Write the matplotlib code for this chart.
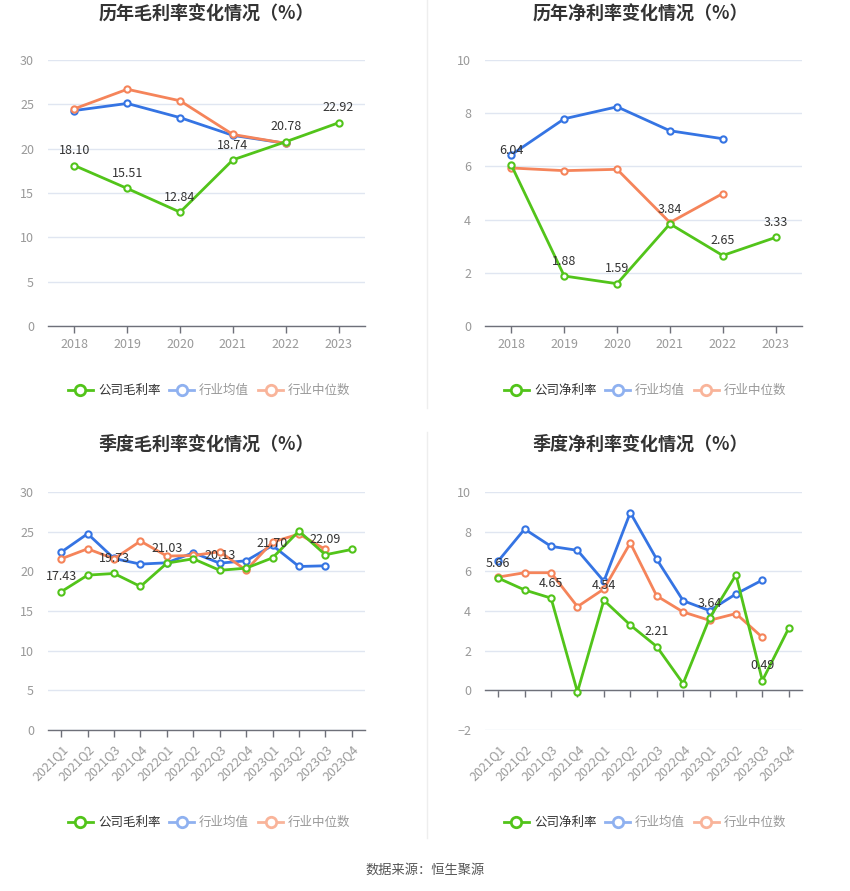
import matplotlib
matplotlib.use('Agg')
import matplotlib.pyplot as plt
from matplotlib.lines import Line2D

plt.rcParams['font.family'] = ['Noto Sans CJK SC', 'DejaVu Sans']

GREEN = '#52c41a'
BLUE = '#3574e3'
ORANGE = '#f5845a'

years = ['2018', '2019', '2020', '2021', '2022', '2023']
quarters = ['2021Q1', '2021Q2', '2021Q3', '2021Q4', '2022Q1', '2022Q2',
            '2022Q3', '2022Q4', '2023Q1', '2023Q2', '2023Q3', '2023Q4']

# annual gross margin
gross_company = [18.10, 15.51, 12.84, 18.74, 20.78, 22.92]
gross_avg = [24.3, 25.1, 23.5, 21.5, 20.6]
gross_median = [24.5, 26.7, 25.4, 21.6, 20.6]

# annual net margin
net_company = [6.04, 1.88, 1.59, 3.84, 2.65, 3.33]
net_avg = [6.44, 7.79, 8.24, 7.34, 7.04]
net_median = [5.94, 5.84, 5.89, 3.89, 4.98]

# quarterly gross margin
q_gross_company = [17.43, 19.52, 19.73, 18.09, 21.03, 21.58,
                   20.13, 20.40, 21.70, 25.07, 22.09, 22.76]
q_gross_avg = [22.42, 24.74, 21.62, 20.91, 21.08, 22.34,
               21.03, 21.33, 23.26, 20.61, 20.70]
q_gross_median = [21.58, 22.84, 21.58, 23.81, 21.92, 22.00,
                  22.47, 20.15, 23.69, 24.70, 22.76]

# quarterly net margin
q_net_company = [5.66, 5.06, 4.65, -0.08, 4.54, 3.29,
                 2.21, 0.34, 3.64, 5.82, 0.49, 3.14]
q_net_avg = [6.52, 8.13, 7.26, 7.06, 5.50, 8.96,
             6.61, 4.52, 4.02, 4.86, 5.56]
q_net_median = [5.71, 5.93, 5.93, 4.22, 5.11, 7.43,
                4.76, 3.95, 3.53, 3.87, 2.67]


def draw_panel(ax, cats, company, avg, median, ylim, yticks, label_step, rotate):
	n = len(cats)
	for vals, color, z in ((avg, BLUE, 3), (median, ORANGE, 4), (company, GREEN, 5)):
		ax.plot(range(len(vals)), vals, color=color, lw=2, marker='o', ms=4.5,
			mfc='white', mec=color, mew=1.5, zorder=z, clip_on=False)
	for i, v in enumerate(company):
		if i % label_step == 0:
			ax.annotate('%.2f' % v, (i, v), xytext=(0, 6), textcoords='offset points',
				ha='center', va='bottom', fontsize=9, color='#333333', zorder=6)
	ax.set_xlim(-0.5, n - 0.5)
	ax.set_ylim(*ylim)
	ax.set_yticks(yticks)
	ax.grid(axis='y', color='#e0e6f1', lw=1)
	ax.set_axisbelow(True)
	for s in ('top', 'right', 'left', 'bottom'):
		ax.spines[s].set_visible(False)
	ax.tick_params(axis='y', length=0, labelsize=9, labelcolor='#999999', pad=10)

	# category labels along the bottom of the plot area
	ax.set_xticks(range(n))
	if rotate:
		ax.set_xticklabels(cats, rotation=45, ha='right', rotation_mode='anchor')
	else:
		ax.set_xticklabels(cats)
	ax.tick_params(axis='x', length=0, labelsize=9, labelcolor='#999999', pad=9)

	# axis line with tick marks at the zero level
	ax.axhline(0, color='#6e7079', lw=1, zorder=2, clip_on=False)
	zero = -ylim[0] / (ylim[1] - ylim[0])
	sec = ax.secondary_xaxis(zero)
	sec.set_xticks(range(n))
	sec.set_xticklabels([])
	for s in sec.spines.values():
		s.set_visible(False)
	sec.tick_params(axis='x', length=5, width=1, color='#6e7079', direction='out')


def add_legend(fig, cx, cy, first_label):
	labels = [first_label, '行业均值', '行业中位数']
	colors = [GREEN, '#8fb1f0', '#f9b49a']
	txt_colors = ['#333333', '#999999', '#999999']
	offsets = [-139, -38, 51]
	for lab, c, tc, off in zip(labels, colors, txt_colors, offsets):
		x = cx + off / 850
		fig.add_artist(Line2D([x, x + 25 / 850], [cy, cy], color=c, lw=2, transform=fig.transFigure))
		fig.add_artist(Line2D([x + 12.5 / 850], [cy], color=c, marker='o', ms=7.5, mfc='white',
			mew=2, transform=fig.transFigure))
		fig.text(x + 30 / 850, cy, lab, fontsize=9, color=tc, va='center', ha='left')


fig = plt.figure(figsize=(8.5, 8.91), dpi=100)

ax1 = fig.add_axes([48 / 850, 1 - 326 / 891, 317 / 850, 266 / 891])
draw_panel(ax1, years, gross_company, gross_avg, gross_median, (0, 30), range(0, 31, 5), 1, False)
ax2 = fig.add_axes([485 / 850, 1 - 326 / 891, 317 / 850, 266 / 891])
draw_panel(ax2, years, net_company, net_avg, net_median, (0, 10), range(0, 11, 2), 1, False)
ax3 = fig.add_axes([48 / 850, 1 - 730 / 891, 317 / 850, 238 / 891])
draw_panel(ax3, quarters, q_gross_company, q_gross_avg, q_gross_median, (0, 30), range(0, 31, 5), 2, True)
ax4 = fig.add_axes([485 / 850, 1 - 730 / 891, 317 / 850, 238 / 891])
draw_panel(ax4, quarters, q_net_company, q_net_avg, q_net_median, (-2, 10), range(-2, 11, 2), 2, True)

title_kw = dict(fontsize=13, fontweight='bold', color='#333333', ha='center', va='center')
fig.text(206 / 850, 1 - 14 / 891, '历年毛利率变化情况（%）', **title_kw)
fig.text(640 / 850, 1 - 14 / 891, '历年净利率变化情况（%）', **title_kw)
fig.text(206 / 850, 1 - 444 / 891, '季度毛利率变化情况（%）', **title_kw)
fig.text(640 / 850, 1 - 444 / 891, '季度净利率变化情况（%）', **title_kw)

add_legend(fig, 207 / 850, 1 - 390 / 891, '公司毛利率')
add_legend(fig, 643 / 850, 1 - 390 / 891, '公司净利率')
add_legend(fig, 207 / 850, 1 - 822 / 891, '公司毛利率')
add_legend(fig, 643 / 850, 1 - 822 / 891, '公司净利率')

fig.add_artist(Line2D([427 / 850, 427 / 850], [1 - 0 / 891, 1 - 408 / 891], color='#eeeeee', lw=1))
fig.add_artist(Line2D([427 / 850, 427 / 850], [1 - 432 / 891, 1 - 838 / 891], color='#eeeeee', lw=1))

fig.text(425 / 850, 1 - 870 / 891, '数据来源：恒生聚源', fontsize=9.5, color='#555555', ha='center', va='center')

fig.savefig('out.png', dpi=100)
